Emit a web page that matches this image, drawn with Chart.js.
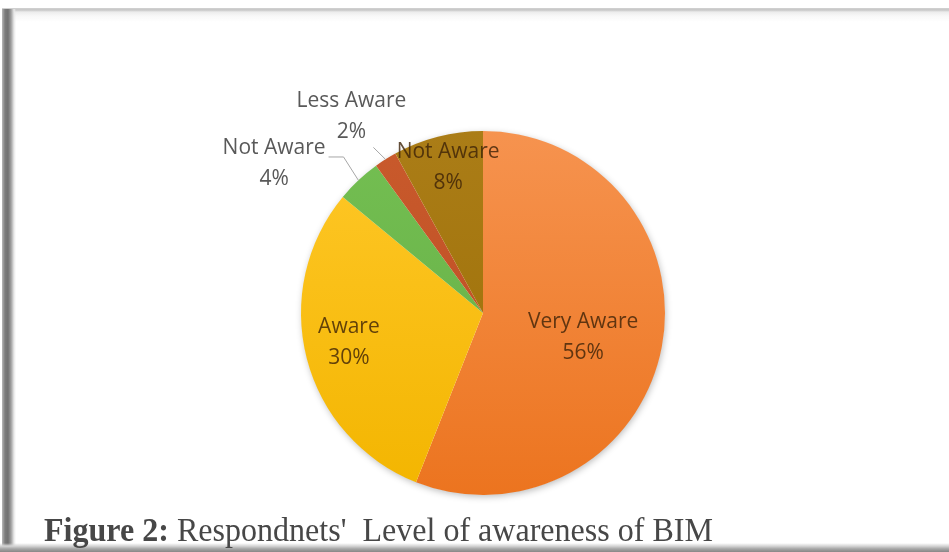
<!DOCTYPE html>
<html>
<head>
<meta charset="utf-8">
<title>Respondents' level of awareness of BIM</title>
<script src="https://cdn.jsdelivr.net/npm/chart.js@4"></script>
<style>
  html, body { margin: 0; padding: 0; background: #fff; }
  #wrap { position: relative; width: 949px; height: 552px; overflow: hidden; background: #fff; }
  #chart { position: absolute; left: 0; top: 0; }
  .edge-top { position: absolute; left: 2px; right: 0; top: 8px; height: 14px;
    background: linear-gradient(to bottom, #d2d2d2 0, #c6c6c6 2px, #ececec 4px, #f8f8f8 8px, rgba(255,255,255,0) 14px); }
  .edge-left { position: absolute; left: 2px; top: 9px; bottom: 0; width: 14px;
    background: linear-gradient(to right, #b8b8b8 0, #7c7c7c 3px, #717171 6px, #9e9e9e 9px, #e8e8e8 12px, rgba(255,255,255,0) 14px); }
  .edge-bottom { position: absolute; left: 0; right: 0; bottom: 0; height: 9px;
    background: linear-gradient(to bottom, rgba(255,255,255,0) 0, #d6d6d6 3px, #a4a4a4 6px, #878787 9px); }
  #caption { position: absolute; left: 44px; top: 513px; font-family: "Liberation Serif", "Times New Roman", serif;
    font-size: 34px; line-height: 1; color: #474747; white-space: pre; transform-origin: 0 0; }
</style>
</head>
<body>
<div id="wrap">
  <canvas id="chart" width="949" height="552"></canvas>
  <div class="edge-top"></div>
  <div class="edge-left"></div>
  <div class="edge-bottom"></div>
  <div id="caption"><b>Figure 2:</b> Respondnets'  Level of awareness of BIM</div>
</div>
<script>
// Survey categories and their shares (percent)
const categories = ['Very Aware', 'Aware', 'Not Aware', 'Less Aware', 'Not Aware'];
const shares = [56, 30, 4, 2, 8];
const shareLabels = shares.map(v => v + '%');

// Slice fills: lighter at the top of the pie, deeper at the bottom
const sliceTop = ['#f6934f', '#ffc829', '#74bf52', '#c95a2c', '#ab7d17'];
const sliceBottom = ['#ec741f', '#f3b500', '#64ad45', '#bb4c22', '#9b6e05'];

// Where each data label sits: fraction of the radius, angular nudge (deg), leader style
const labelPlacement = [
  { r: 0.566, shift: 2.7, inside: true },
  { r: 0.755, shift: 1.8, inside: true },
  { r: 1.41, shift: -11.3, inside: false, leader: 'side' },
  { r: 1.30, shift: -1.4, inside: false, leader: 'below' },
  { r: 0.82, shift: 0.9, inside: true }
];

const LABEL_FONT = '21px "Open Sans", "Noto Sans", sans-serif';
const LINE_GAP = 15.5;

// Soft drop shadow under the whole pie
const pieShadow = {
  id: 'pieShadow',
  beforeDatasetsDraw(chart) {
    const arc = chart.getDatasetMeta(0).data[0];
    if (!arc) return;
    const ctx = chart.ctx;
    ctx.save();
    ctx.shadowColor = 'rgba(0,0,0,0.28)';
    ctx.shadowBlur = 7;
    ctx.shadowOffsetX = 1;
    ctx.shadowOffsetY = 2;
    ctx.fillStyle = '#ffffff';
    ctx.beginPath();
    ctx.arc(arc.x, arc.y, arc.outerRadius - 0.5, 0, Math.PI * 2);
    ctx.fill();
    ctx.restore();
  }
};

// Category name + percentage for each slice, with leader lines for the outer ones
const sliceLabels = {
  id: 'sliceLabels',
  afterDatasetsDraw(chart) {
    const ctx = chart.ctx;
    const arcs = chart.getDatasetMeta(0).data;
    ctx.save();
    ctx.font = LABEL_FONT;
    ctx.textAlign = 'center';
    ctx.textBaseline = 'middle';
    arcs.forEach((arc, i) => {
      const p = labelPlacement[i];
      const mid = (arc.startAngle + arc.endAngle) / 2;
      const a = mid + p.shift * Math.PI / 180;
      const R = arc.outerRadius;
      const x = arc.x + Math.cos(a) * R * p.r;
      const y = arc.y + Math.sin(a) * R * p.r;
      const line1 = categories[i];
      const line2 = shareLabels[i];
      const boxW = Math.max(ctx.measureText(line1).width, ctx.measureText(line2).width);

      if (!p.inside) {
        const ex = arc.x + Math.cos(mid) * R;
        const ey = arc.y + Math.sin(mid) * R;
        ctx.strokeStyle = '#a6a6a6';
        ctx.lineWidth = 1;
        ctx.beginPath();
        if (p.leader === 'side') {
          const ax = x + boxW / 2 + 3;
          const ay = y - 7;
          ctx.moveTo(ax, ay);
          ctx.lineTo(ax + 15, ay);
          ctx.lineTo(ex, ey);
        } else {
          ctx.moveTo(x + 22, y + 31);
          ctx.lineTo(ex, ey);
        }
        ctx.stroke();
      }

      ctx.fillStyle = p.inside ? 'rgba(60,34,8,0.8)' : '#595959';
      ctx.fillText(line1, x, y - LINE_GAP);
      ctx.fillText(line2, x, y + LINE_GAP);
    });
    ctx.restore();
  }
};

new Chart(document.getElementById('chart'), {
  type: 'pie',
  data: {
    labels: categories,
    datasets: [{
      data: shares,
      borderWidth: 0,
      backgroundColor(context) {
        const i = context.dataIndex;
        const area = context.chart.chartArea;
        if (!area) return sliceTop[i];
        const g = context.chart.ctx.createLinearGradient(0, area.top, 0, area.bottom);
        g.addColorStop(0, sliceTop[i]);
        g.addColorStop(1, sliceBottom[i]);
        return g;
      }
    }]
  },
  options: {
    responsive: false,
    animation: false,
    events: [],
    layout: { padding: { top: 131, bottom: 57, left: 283, right: 266 } },
    plugins: {
      legend: { display: false },
      tooltip: { enabled: false }
    }
  },
  plugins: [pieShadow, sliceLabels]
});

// Caption is set in a serif face and fitted to its line width
const cap = document.getElementById('caption');
const capW = cap.getBoundingClientRect().width;
cap.style.transform = 'scaleX(' + (669 / capW).toFixed(4) + ')';
</script>
</body>
</html>
